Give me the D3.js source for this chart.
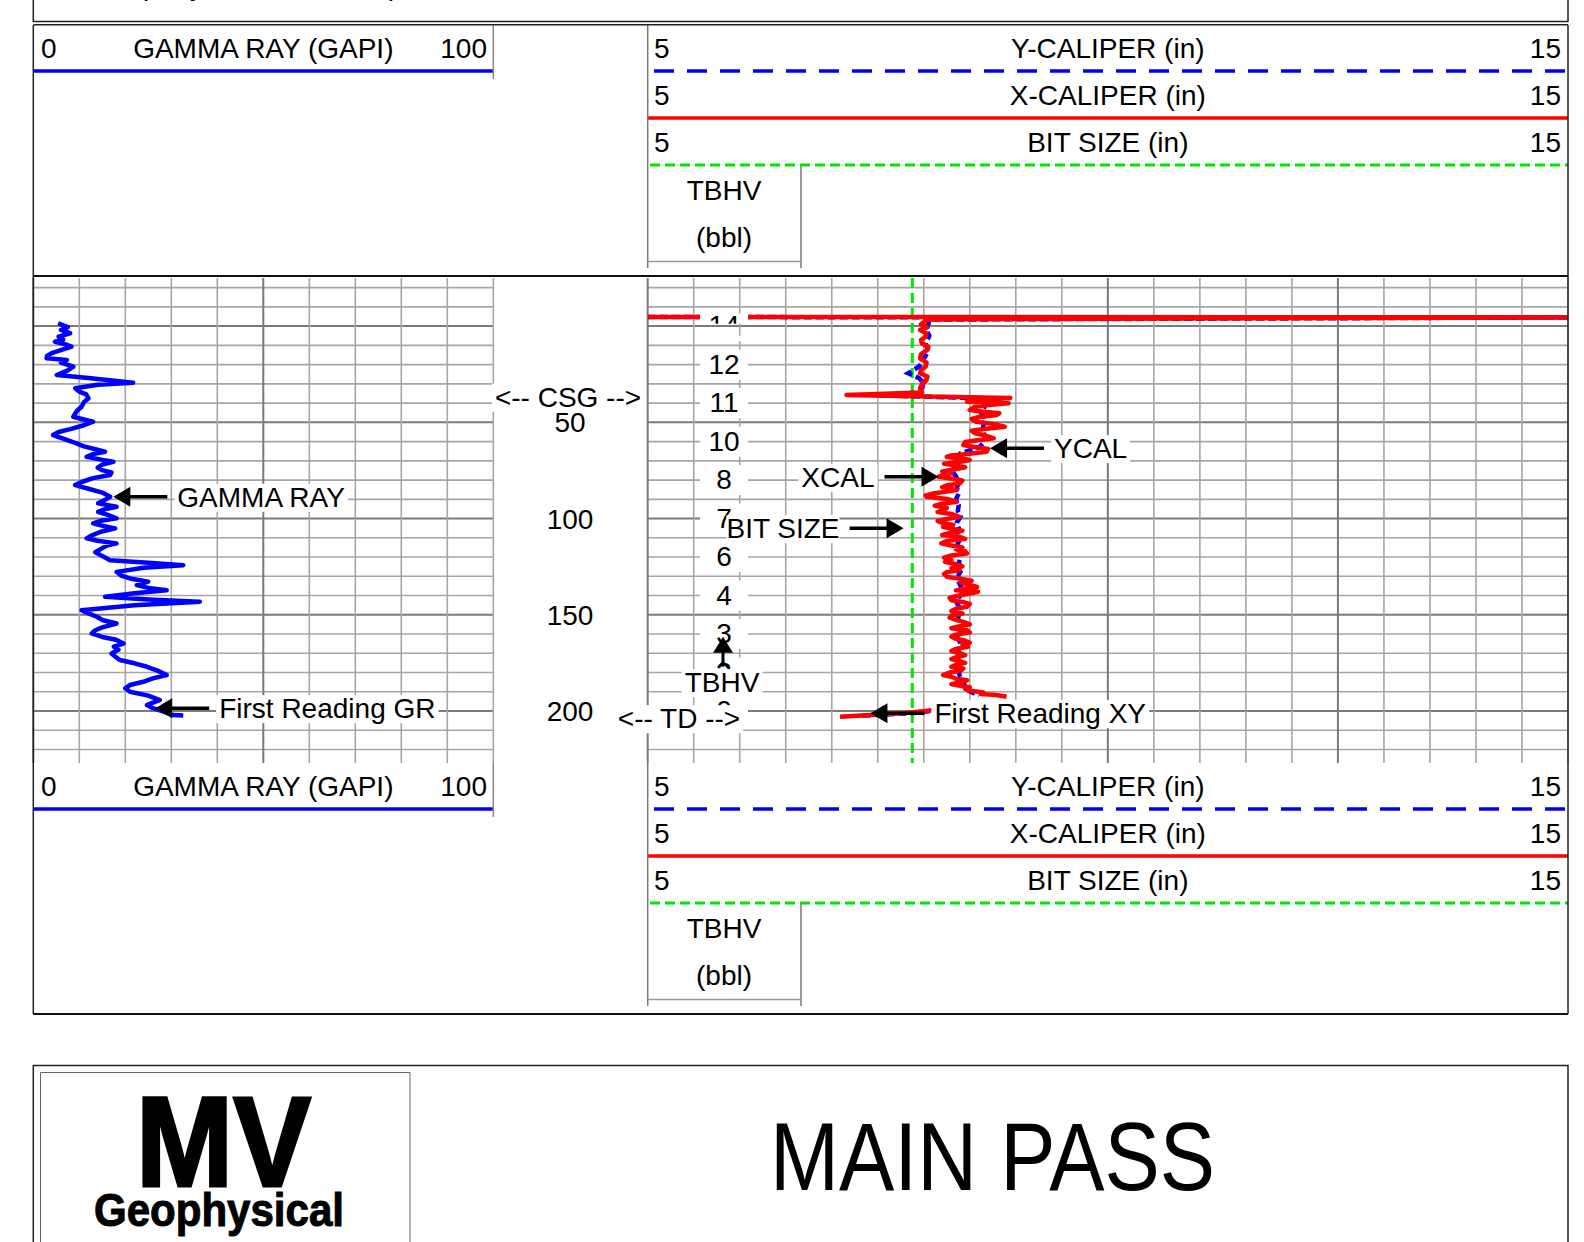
<!DOCTYPE html>
<html>
<head>
<meta charset="utf-8">
<script src="https://cdn.jsdelivr.net/npm/d3@7"></script>
<style>
body { margin: 0; background: #fff; }
svg { display: block; font-family: "Liberation Sans", Arial, sans-serif; }
</style>
</head>
<body>
<svg width="1584" height="1242"></svg>
<script>
var grRange = [0, 100];
var calRange = [5, 15];
var calNames = ['Y-CALIPER (in)', 'X-CALIPER (in)', 'BIT SIZE (in)'];
var depthLabels = [50, 100, 150, 200];

var grDepth = [-1.5, 0.5, 2, 3.7, 5.5, 7, 8.1, 9.5, 10.7, 12.5, 14, 15.5, 16.7, 17.6, 19, 21.1, 23, 25.4, 27, 29.4,
  30.5, 32.3, 34, 35.5, 37.5, 39.5, 41.9, 44, 47.1, 48.5, 49.7, 51.5, 53.5, 55, 56.6, 58.5, 60.9, 62.5, 64, 65.3,
  66.5, 67.9, 69.5, 70.5, 72, 73.5, 74.8, 76, 77.4, 79, 81, 82.6, 84.5, 86.5, 88.7, 90.4, 92.1, 93.9, 95.2, 96.5,
  98, 99.9, 101, 102.5, 104, 105.1, 107, 109, 110.3, 111.5, 112.9, 114, 115.5, 117.5, 119.5, 121.6, 123, 124.2, 125.5, 127.7,
  129.5, 131.1, 132.8, 134.6, 136, 137.2, 138.8, 140.6, 142, 143.2, 145, 147.6, 149.3, 151, 152.7, 154.5, 156.5, 158, 159.7, 161.5,
  163, 164.9, 166.5, 168.2, 170.1, 172, 173.5, 175.2, 177, 179, 181.3, 183, 184.8, 186.5, 188.2, 190, 192, 194.3, 195.6, 196.9,
  198.5, 200, 202.1, 202.3];
var grValue = [5.4, 7.5, 6.0, 8.0, 5.5, 6.5, 4.7, 7.0, 8.3, 6.0, 4.0, 3.0, 2.9, 7.3, 6.0, 8.7, 7.5, 5.1, 12, 21.7,
  14, 9.1, 10, 11.5, 12.0, 11, 10.5, 9.5, 8.7, 11, 13.0, 11, 8, 5.5, 4.3, 6.5, 9.4, 11, 13.5, 15.6,
  13, 11.6, 15, 17.4, 15, 14, 14.9, 17, 16.7, 13, 10.5, 9.1, 12, 15, 16.7, 15.5, 14.1, 18.1, 15.5, 14.1,
  16, 18.1, 15, 13.0, 15.5, 17.8, 14.5, 12.5, 11.6, 14, 18.1, 16, 14.9, 13.5, 15, 16.7, 25, 32.6, 24, 18.1,
  19, 21.0, 25.0, 22.5, 25, 29.0, 22, 15.6, 25, 36.2, 22, 10.5, 12, 13.8, 15, 18.1, 15, 13.5, 12.7, 15,
  18, 19.6, 17.5, 18.5, 17.0, 18, 18.8, 22, 24.7, 27, 29.0, 26, 23.9, 21, 20, 21.0, 25, 27.5, 26, 24.7,
  26, 28, 30.4, 32.6];

var xcalDepth = [-4.8, -4.6, -3.5, -3.2, -1, 0.5, 2, 3.8, 5.5, 7.3, 9, 10.7, 12.4, 14.6, 16.8, 19, 21.1, 22.8, 24.5, 26.2,
  28, 30.2, 32.3, 34.5, 35.8, 37.3, 38.5, 39.3, 40.1, 41, 42, 43.6, 44.5, 45.3, 46.2, 47.2, 48.2, 49.7, 50.8, 52.3,
  53.2, 54.3, 55.7, 57, 58.3, 59.2, 60.2, 61.8, 62.8, 63.8, 65.3, 66.3, 67.2, 68, 69, 69.6, 70.5, 71.5, 72.2, 73.3,
  74.3, 75.5, 76.5, 77.5, 78.3, 79.2, 80.2, 81.7, 82.7, 83.7, 84.5, 85.2, 86, 87, 88, 88.7, 89.8, 91.3, 92.3, 93.3,
  94.5, 95.6, 96.6, 97.6, 99.1, 100.2, 101.2, 102.3, 103.3, 104.3, 105.3, 106.3, 107.3, 108.5, 109.5, 110.5, 111.7, 112.9, 114, 115,
  116, 117, 118.1, 119.2, 120.3, 121.5, 122.5, 123.7, 124.8, 125.8, 126.8, 127.8, 128.8, 130.2, 131.3, 132.3, 133.3, 134.5, 135.5, 136.5,
  137.3, 138, 139, 140.2, 141.2, 142.4, 143.3, 144.3, 145.8, 146.8, 148, 149.3, 150.5, 151.5, 152.8, 154, 155, 156, 157, 158,
  159.2, 160.3, 161.3, 162.3, 163.5, 164.5, 165.5, 166.6, 167.7, 168.8, 170, 171, 171.8, 173, 174, 175, 176, 177, 177.9, 179,
  180, 181.3, 182.2, 183.2, 184, 185, 186, 186.8, 187.6, 188.5, 189.5, 190.3, 191.2, 191.7, 192.6, 196, 199.5, 201, 203];
var xcalValue = [4.0, 16, 8.05, 8.03, 7.97, 8.04, 7.96, 8.03, 8.02, 7.97, 7.98, 8.05, 8.04, 7.97, 7.96, 8.03, 8.02, 7.97, 7.96, 8.04,
  8.03, 7.98, 7.96, 7.98, 7.16, 8.94, 8.6, 8.47, 8.92, 8.7, 8.55, 8.50, 8.65, 8.82, 8.79, 8.6, 8.52, 8.57, 8.75, 8.88,
  8.7, 8.52, 8.56, 8.68, 8.76, 8.6, 8.45, 8.43, 8.55, 8.7, 8.68, 8.5, 8.3, 8.25, 8.45, 8.5, 8.4, 8.22, 8.32, 8.45,
  8.35, 8.2, 8.3, 8.2, 8.16, 8.3, 8.42, 8.39, 8.25, 8.2, 8.32, 8.36, 8.25, 8.1, 8.02, 8.03, 8.25, 8.36, 8.2, 8.12,
  8.25, 8.21, 8.15, 8.3, 8.39, 8.25, 8.15, 8.2, 8.32, 8.21, 8.3, 8.42, 8.3, 8.2, 8.39, 8.45, 8.25, 8.19, 8.3, 8.42,
  8.35, 8.45, 8.47, 8.3, 8.22, 8.3, 8.23, 8.35, 8.42, 8.3, 8.39, 8.25, 8.22, 8.25, 8.4, 8.52, 8.4, 8.5, 8.58, 8.42,
  8.35, 8.59, 8.5, 8.36, 8.28, 8.30, 8.42, 8.5, 8.47, 8.35, 8.3, 8.42, 8.3, 8.28, 8.36, 8.45, 8.5, 8.38, 8.3, 8.47,
  8.5, 8.35, 8.3, 8.34, 8.45, 8.5, 8.42, 8.48, 8.35, 8.3, 8.4, 8.45, 8.36, 8.3, 8.38, 8.45, 8.35, 8.3, 8.43, 8.4,
  8.28, 8.21, 8.3, 8.35, 8.47, 8.4, 8.3, 8.38, 8.5, 8.45, 8.5, 8.65, 8.62, 8.79, 8.9, null, 8.12, 7.8, 7.09];

var ycalDepth = [-4.7, -4.5, -3.4, -1, 2, 5, 9, 13, 17, 21, 24.5, 27, 30, 33, 34.6, 35.9, 37.5, 39, 42, 45,
  48, 51, 54, 57, 60, 63, 66, 69, 72, 75, 78, 81, 84, 87, 90, 93, 96, 99, 102, 105,
  108, 111, 114, 117, 120, 123, 126, 129, 132, 135, 138, 141, 144, 147, 150, 153, 156, 159, 162, 165,
  168, 171, 174, 177, 180, 183, 186, 189, 192, 196, 199.2, 201, 202.5];
var ycalValue = [4.0, 16, 8.06, 8.05, 8.03, 8.06, 8.02, 8.05, 8.0, 7.95, 7.83, 7.95, 8.0, 7.97, 7.9, 7.5, 8.6, 8.65, 8.66, 8.62,
  8.68, 8.65, 8.64, 8.66, 8.66, 8.6, 8.4, 8.36, 8.37, 8.3, 8.35, 8.38, 8.36, 8.38, 8.35, 8.38, 8.37, 8.4, 8.36, 8.38,
  8.37, 8.39, 8.36, 8.41, 8.4, 8.38, 8.42, 8.38, 8.37, 8.4, 8.43, 8.38, 8.36, 8.4, 8.38, 8.37, 8.4, 8.39, 8.37, 8.4,
  8.38, 8.36, 8.38, 8.41, 8.38, 8.4, 8.44, 8.46, 8.6, null, 8.2, 7.9, 7.3];

var bitDepth = [-25, 227];
var bitValue = [7.875, 7.875];

var tbhvDepth = [0, 20, 40, 60, 80, 100, 120, 140, 160, 180, 200];
var tbhvValue = [14, 12, 11, 10, 8, 7, 6, 4, 3, 2, 0];

var csgDepth = 36.6, tdDepth = 203.7;

// ---- scales ----
var svg = d3.select('svg');
var y = d3.scaleLinear().domain([-25, 227]).range([278, 763]);
var gx = d3.scaleLinear().domain(grRange).range([33.3, 493.3]).clamp(true);
var cx = d3.scaleLinear().domain(calRange).range([647.7, 1568]).clamp(true);
var FS = 28;

function zip(ds, vs) { return ds.map(function(d, i) { return {d: d, v: vs[i]}; }); }

// ---- grid ----
var grid = svg.append('g');
var hTicks = d3.range(-20, 221, 10);
function hLines(x1, x2) {
  grid.append('g').selectAll('line').data(hTicks).enter().append('line')
    .attr('x1', x1).attr('x2', x2)
    .attr('y1', function(d) { return y(d); }).attr('y2', function(d) { return y(d); })
    .attr('stroke', function(d) { return d % 50 === 0 ? '#7a7a7a' : '#a6a6a6'; })
    .attr('stroke-width', function(d) { return d % 50 === 0 ? 2 : 1.6; });
}
hLines(gx(0), gx(100));
hLines(cx(5), cx(15));

grid.append('g').selectAll('line').data(d3.range(0, 101, 10)).enter().append('line')
  .attr('x1', function(d) { return gx(d); }).attr('x2', function(d) { return gx(d); })
  .attr('y1', y(-25)).attr('y2', y(227))
  .attr('stroke', function(d) { return d === 50 || d === 0 ? '#7a7a7a' : '#a6a6a6'; })
  .attr('stroke-width', function(d) { return d === 50 || d === 0 ? 2 : 1.6; });

grid.append('g').selectAll('line').data(d3.range(5, 15.001, 0.5)).enter().append('line')
  .attr('x1', function(d) { return cx(d); }).attr('x2', function(d) { return cx(d); })
  .attr('y1', y(-25)).attr('y2', y(227))
  .attr('stroke', function(d) { return d === 10 || d === 12.5 || d === 5 ? '#7a7a7a' : '#a6a6a6'; })
  .attr('stroke-width', function(d) { return d === 10 || d === 12.5 || d === 5 ? 2 : 1.6; });

// ---- clips ----
var defs = svg.append('defs');
defs.append('clipPath').attr('id', 'clipGR').append('rect')
  .attr('x', gx(0)).attr('y', y(-25)).attr('width', gx(100) - gx(0)).attr('height', y(227) - y(-25));
defs.append('clipPath').attr('id', 'clipCal').append('rect')
  .attr('x', cx(5)).attr('y', y(-25)).attr('width', cx(15) - cx(5)).attr('height', y(227) - y(-25));
var tc = defs.append('clipPath').attr('id', 'clipTbhv');
tc.append('rect').attr('x', 640).attr('y', y(-6.5)).attr('width', 200).attr('height', y(-1.2) - y(-6.5));
tc.append('rect').attr('x', 640).attr('y', y(5)).attr('width', 200).attr('height', y(227) - y(5));

// ---- curves ----
var grLine = d3.line().x(function(p) { return gx(p.v); }).y(function(p) { return y(p.d); });
var calLine = d3.line().defined(function(p) { return p.v != null; })
  .x(function(p) { return cx(p.v); }).y(function(p) { return y(p.d); });

svg.append('path').datum(zip(bitDepth, bitValue))
  .attr('clip-path', 'url(#clipCal)')
  .attr('d', calLine).attr('fill', 'none')
  .attr('stroke', '#00e600').attr('stroke-width', 3).attr('stroke-dasharray', '10,5');

svg.append('path').datum(zip(grDepth, grValue))
  .attr('clip-path', 'url(#clipGR)')
  .attr('d', grLine).attr('fill', 'none')
  .attr('stroke', '#0000ff').attr('stroke-width', 4.5).attr('stroke-linejoin', 'round');

svg.append('path').datum(zip(ycalDepth, ycalValue))
  .attr('clip-path', 'url(#clipCal)')
  .attr('d', calLine).attr('fill', 'none')
  .attr('stroke', '#0000ff').attr('stroke-width', 4.5).attr('stroke-dasharray', '8,4');

svg.append('path').datum(zip(xcalDepth, xcalValue))
  .attr('clip-path', 'url(#clipCal)')
  .attr('d', calLine).attr('fill', 'none')
  .attr('stroke', '#ff0000').attr('stroke-width', 4.5).attr('stroke-linejoin', 'round');

// ---- labels ----
function boxed(g, txt, x, yc, anchor, padX) {
  var p = padX == null ? 3 : padX;
  var t = g.append('text').attr('x', x).attr('y', yc + 10)
    .attr('text-anchor', anchor || 'start').attr('font-size', FS).text(txt);
  var b = t.node().getBBox();
  g.insert('rect', function() { return t.node(); })
    .attr('x', b.x - p).attr('y', yc - 13)
    .attr('width', b.width + 2 * p).attr('height', 28).attr('fill', '#fff');
  return t;
}

// depth column
svg.append('g').selectAll('text').data(depthLabels).enter().append('text')
  .attr('x', 570).attr('y', function(d) { return y(d) + 10; })
  .attr('text-anchor', 'middle').attr('font-size', FS).text(function(d) { return d; });

// TBHV volume labels
var tb = svg.append('g').attr('clip-path', 'url(#clipTbhv)');
tbhvDepth.forEach(function(d, i) {
  tb.append('rect').attr('x', 700).attr('y', y(d) - 15).attr('width', 48).attr('height', 30).attr('fill', '#fff');
  tb.append('text').attr('x', 724).attr('y', y(d) + 9).attr('text-anchor', 'middle')
    .attr('font-size', FS).text(tbhvValue[i]);
});

// TBHV marker arrow
var mk = svg.append('g');
var ax = 723, tip = y(161.4);
mk.append('path').attr('d', 'M' + ax + ',' + tip + 'L' + (ax - 10) + ',' + (tip + 16) + 'L' + (ax + 10) + ',' + (tip + 16) + 'Z');
mk.append('line').attr('x1', ax).attr('x2', ax).attr('y1', tip + 14).attr('y2', tip + 30).attr('stroke', '#000').attr('stroke-width', 3);
mk.append('path').attr('d', 'M' + (ax - 5) + ',' + (tip + 31) + 'L' + ax + ',' + (tip + 25) + 'L' + (ax + 5) + ',' + (tip + 31))
  .attr('fill', 'none').attr('stroke', '#000').attr('stroke-width', 2);
boxed(svg.append('g'), 'TBHV', 722, y(185), 'middle');

// CSG and TD
boxed(svg.append('g'), '<-- CSG -->', 568, y(csgDepth), 'middle');
boxed(svg.append('g'), '<-- TD -->', 679, y(tdDepth), 'middle');

// arrow annotations
var notes = [
  {text: 'GAMMA RAY', track: 'gr', value: 17.4, depth: 88.7, dir: 'left'},
  {text: 'First Reading GR', track: 'gr', value: 26.5, depth: 198.5, dir: 'left'},
  {text: 'XCAL', track: 'cal', value: 8.16, depth: 78.3, dir: 'right'},
  {text: 'YCAL', track: 'cal', value: 8.72, depth: 63.4, dir: 'left'},
  {text: 'BIT SIZE', track: 'cal', value: 7.78, depth: 105, dir: 'right'},
  {text: 'First Reading XY', track: 'cal', value: 7.42, depth: 201.1, dir: 'left'}
];
notes.forEach(function(n) {
  var g = svg.append('g');
  var tx = n.track === 'gr' ? gx(n.value) : cx(n.value);
  var ty = y(n.depth);
  var s = n.dir === 'left' ? 1 : -1;
  var tail = tx + s * 54;
  g.append('line').attr('x1', tx + s * 12).attr('x2', tail).attr('y1', ty).attr('y2', ty)
    .attr('stroke', '#000').attr('stroke-width', 3.5);
  g.append('path').attr('d', 'M' + tx + ',' + ty + 'L' + (tx + s * 17) + ',' + (ty - 10) + 'L' + (tx + s * 17) + ',' + (ty + 10) + 'Z');
  boxed(g, n.text, tail + s * 10, ty, n.dir === 'left' ? 'start' : 'end', n.text === 'BIT SIZE' ? 0 : 3);
});

// ---- headers ----
function header(top) {
  var h = svg.append('g').attr('transform', 'translate(0,' + top + ')').attr('font-size', FS);
  h.append('text').attr('x', 41).attr('y', 33).text(grRange[0]);
  h.append('text').attr('x', (gx(0) + gx(100)) / 2).attr('y', 33).attr('text-anchor', 'middle').text('GAMMA RAY (GAPI)');
  h.append('text').attr('x', 487).attr('y', 33).attr('text-anchor', 'end').text(grRange[1]);
  h.append('line').attr('x1', gx(0)).attr('x2', gx(100)).attr('y1', 46).attr('y2', 46)
    .attr('stroke', '#0000ff').attr('stroke-width', 3.5);
  h.append('line').attr('x1', gx(100)).attr('x2', gx(100)).attr('y1', 0).attr('y2', 54)
    .attr('stroke', '#888').attr('stroke-width', 1.5);

  var styles = [
    {color: '#0000ff', dash: '20,13', w: 3.5, x0: 654},
    {color: '#ff0000', dash: null, w: 3.5, x0: cx(5)},
    {color: '#00e600', dash: '10,5', w: 3, x0: 650}
  ];
  calNames.forEach(function(name, i) {
    var tyy = 33 + i * 47, ly = 46 + i * 47;
    h.append('text').attr('x', 654).attr('y', tyy).text(calRange[0]);
    h.append('text').attr('x', (cx(5) + cx(15)) / 2).attr('y', tyy).attr('text-anchor', 'middle').text(name);
    h.append('text').attr('x', 1561).attr('y', tyy).attr('text-anchor', 'end').text(calRange[1]);
    h.append('line').attr('x1', styles[i].x0).attr('x2', cx(15)).attr('y1', ly).attr('y2', ly)
      .attr('stroke', styles[i].color).attr('stroke-width', styles[i].w)
      .attr('stroke-dasharray', styles[i].dash);
  });
  h.append('line').attr('x1', cx(5)).attr('x2', cx(5)).attr('y1', 0).attr('y2', 243).attr('stroke', '#777').attr('stroke-width', 1.5);
  h.append('line').attr('x1', 801).attr('x2', 801).attr('y1', 141).attr('y2', 243).attr('stroke', '#777').attr('stroke-width', 1.5);
  h.append('line').attr('x1', cx(5)).attr('x2', 801).attr('y1', 236.5).attr('y2', 236.5).attr('stroke', '#999').attr('stroke-width', 1.5);
  h.append('text').attr('x', 724).attr('y', 175).attr('text-anchor', 'middle').text('TBHV');
  h.append('text').attr('x', 724).attr('y', 222).attr('text-anchor', 'middle').text('(bbl)');
  // box edges
  h.append('line').attr('x1', 33.3).attr('x2', 33.3).attr('y1', 0).attr('y2', 251).attr('stroke', '#222').attr('stroke-width', 1.5);
  h.append('line').attr('x1', 1568).attr('x2', 1568).attr('y1', 0).attr('y2', 251).attr('stroke', '#222').attr('stroke-width', 1.5);
  h.append('line').attr('x1', 33.3).attr('x2', 1568).attr('y1', 251).attr('y2', 251).attr('stroke', '#111').attr('stroke-width', 2);
}
header(25);
header(763);

// ---- frame lines ----
var fr = svg.append('g').attr('stroke', '#222').attr('stroke-width', 1.5);
fr.append('line').attr('x1', 33.3).attr('x2', 33.3).attr('y1', 0).attr('y2', 22);
fr.append('line').attr('x1', 1568).attr('x2', 1568).attr('y1', 0).attr('y2', 22);
fr.append('line').attr('x1', 33.3).attr('x2', 1568).attr('y1', 21.5).attr('y2', 21.5);
fr.append('line').attr('x1', 33.3).attr('x2', 1568).attr('y1', 24.8).attr('y2', 24.8);
fr.append('line').attr('x1', 33.3).attr('x2', 33.3).attr('y1', 276).attr('y2', 763);
fr.append('line').attr('x1', 1568).attr('x2', 1568).attr('y1', 276).attr('y2', 763);

// heading row above, cut off by the page edge
svg.append('text').attr('x', 84).attr('y', -5).attr('font-size', FS).text('Company');
svg.append('text').attr('x', 352).attr('y', -5).attr('font-size', FS).text('Depth Reference: Ground Level');

// ---- footer ----
var ft = svg.append('g');
ft.append('path').attr('d', 'M33.3,1242V1065.5H1568V1242').attr('fill', 'none').attr('stroke', '#222').attr('stroke-width', 1.5);
ft.append('path').attr('d', 'M40.5,1242V1072.5H410V1242').attr('fill', 'none').attr('stroke', '#666').attr('stroke-width', 1);
ft.append('text').attr('x', 136).attr('y', 1186).attr('font-size', 128).attr('font-weight', 'bold')
  .attr('textLength', 175).attr('lengthAdjust', 'spacingAndGlyphs')
  .attr('stroke', '#000').attr('stroke-width', 3).text('MV');
ft.append('text').attr('x', 94).attr('y', 1226).attr('font-size', 46).attr('font-weight', 'bold')
  .attr('textLength', 250).attr('lengthAdjust', 'spacingAndGlyphs')
  .attr('stroke', '#000').attr('stroke-width', 1).text('Geophysical');
ft.append('text').attr('x', 770).attr('y', 1190).attr('font-size', 96)
  .attr('textLength', 445).attr('lengthAdjust', 'spacingAndGlyphs').text('MAIN PASS');
</script>
</body>
</html>
